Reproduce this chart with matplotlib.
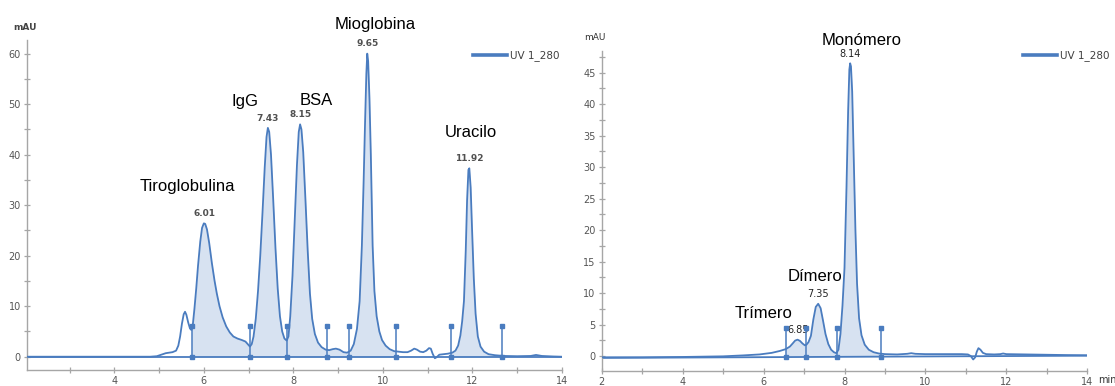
import numpy as np
import matplotlib
matplotlib.use("Agg")
import matplotlib.pyplot as plt
from matplotlib.lines import Line2D
from matplotlib.ticker import MultipleLocator

# ---------------- data ----------------
left_time = [2.05, 4.8, 4.95, 5.05, 5.15, 5.3, 5.38, 5.43, 5.47, 5.51, 5.55, 5.58, 5.61, 5.65, 5.69,
             5.72, 5.75, 5.79, 5.83, 5.87, 5.92, 5.96, 6.00, 6.03, 6.07, 6.12, 6.18, 6.24, 6.29, 6.35,
             6.42, 6.50, 6.58, 6.66, 6.75, 6.85, 6.93, 6.99, 7.03, 7.07, 7.11, 7.16, 7.21, 7.26, 7.31,
             7.36, 7.40, 7.43, 7.46, 7.50, 7.55, 7.60, 7.65, 7.70, 7.75, 7.80, 7.85, 7.89, 7.93, 7.98,
             8.03, 8.08, 8.12, 8.15, 8.18, 8.22, 8.27, 8.32, 8.37, 8.42, 8.48, 8.55, 8.63, 8.72, 8.80,
             8.88, 8.95, 9.03, 9.12, 9.20, 9.28, 9.35, 9.42, 9.48, 9.53, 9.57, 9.60, 9.63, 9.65, 9.67,
             9.70, 9.73, 9.77, 9.81, 9.86, 9.92, 9.98, 10.06, 10.15, 10.25, 10.35, 10.45, 10.55, 10.63,
             10.70, 10.76, 10.83, 10.90, 10.97, 11.03, 11.07, 11.11, 11.16, 11.20, 11.26, 11.35, 11.45,
             11.55, 11.62, 11.68, 11.73, 11.77, 11.81, 11.85, 11.88, 11.91, 11.93, 11.96, 11.99, 12.03,
             12.07, 12.12, 12.18, 12.26, 12.36, 12.50, 12.70, 13.0, 13.3, 13.42, 13.55, 13.8, 14.0]
left_mau = [0, 0, 0.1, 0.4, 0.7, 0.9, 1.2, 2.2, 4.0, 6.5, 8.4, 8.9, 8.3, 6.8, 5.6,
            5.3, 6.0, 9.5, 13.5, 18.0, 22.8, 25.5, 26.4, 26.3, 25.2, 22.5, 18.5, 15.0, 12.5, 10.0,
            7.8, 6.0, 4.8, 4.0, 3.6, 3.3, 3.0, 2.4, 2.0, 2.5, 4.0, 7.5, 13.0, 20.0, 28.5,
            37.5, 43.5, 45.3, 44.5, 40.0, 31.0, 21.5, 13.5, 8.0, 5.0, 3.6, 3.2, 4.0, 8.0, 16.0,
            27.0, 38.0, 44.5, 46.0, 45.0, 40.5, 31.0, 21.0, 12.5, 7.5, 4.5, 2.8, 1.9, 1.4, 1.3,
            1.5, 1.6, 1.4, 0.9, 0.8, 1.2, 2.5, 5.5, 11.0, 22.0, 35.0, 46.0, 56.0, 60.0, 58.5,
            51.0, 40.0, 22.0, 13.0, 8.0, 5.0, 3.3, 2.2, 1.5, 1.1, 1.0, 0.9, 0.9, 1.2,
            1.6, 1.4, 1.0, 0.9, 1.2, 1.7, 1.6, 0.6, -0.3, -0.1, 0.4, 0.5, 0.6,
            0.8, 1.2, 2.2, 4.2, 7.0, 11.0, 21.0, 31.0, 37.0, 37.3, 33.5, 25.5, 15.5,
            8.5, 4.0, 2.0, 1.0, 0.5, 0.3, 0.15, 0.1, 0.15, 0.35, 0.15, 0.05, 0.0]
left_baseline = [0.0, 0.0]
left_marks = [5.73, 7.03, 7.86, 8.76, 9.24, 10.30, 11.52, 12.67]
left_fill = [(5.73, 7.03), (7.03, 7.86), (7.86, 8.76), (8.76, 9.24), (9.24, 10.30), (11.52, 12.67)]
left_peaks_t = [6.01, 7.43, 8.15, 9.65, 11.92]
left_peaks_h = [26.4, 45.3, 46.0, 60.0, 37.3]
left_peak_labels = ["6.01", "7.43", "8.15", "9.65", "11.92"]
left_names = ["Tiroglobulina", "IgG", "BSA", "Mioglobina", "Uracilo"]
left_names_xy = [(5.64, 33.6), (6.91, 50.6), (8.50, 50.8), (9.82, 65.7), (11.96, 44.3)]

right_time = [2.0, 3.0, 4.0, 4.5, 5.0, 5.5, 5.9, 6.2, 6.4, 6.55, 6.65, 6.72, 6.78, 6.84, 6.90,
              6.96, 7.02, 7.06, 7.11, 7.17, 7.23, 7.29, 7.35, 7.41, 7.47, 7.53, 7.60, 7.67, 7.74,
              7.80, 7.85, 7.90, 7.95, 8.00, 8.05, 8.09, 8.12, 8.14, 8.16, 8.19, 8.23, 8.27, 8.31,
              8.36, 8.42, 8.50, 8.60, 8.72, 8.85, 9.0, 9.3, 9.55, 9.65, 9.75, 10.0, 10.5, 10.9,
              11.05, 11.12, 11.18, 11.23, 11.27, 11.31, 11.36, 11.42, 11.5, 11.7, 11.85, 11.92,
              12.0, 12.5, 13.0, 13.5, 14.0]
right_mau = [-0.2, -0.2, -0.15, -0.1, -0.05, 0.1, 0.25, 0.5, 0.8, 1.1, 1.5, 2.0, 2.45, 2.6, 2.4,
             2.0, 1.7, 1.8, 2.2, 3.2, 5.8, 7.8, 8.3, 7.6, 5.6, 3.5, 1.9, 1.0, 0.6,
             0.45, 1.0, 3.5, 8.0, 14.0, 27.0, 39.0, 45.5, 46.5, 46.0, 42.0, 31.0, 20.0, 11.5,
             6.0, 3.3, 1.8, 1.0, 0.6, 0.4, 0.3, 0.25, 0.35, 0.45, 0.35, 0.3, 0.3, 0.3,
             0.25, 0.0, -0.55, -0.2, 0.7, 1.25, 1.0, 0.5, 0.3, 0.25, 0.3, 0.4,
             0.3, 0.25, 0.2, 0.15, 0.12]
right_baseline = [-0.3, 0.05]
right_marks = [6.55, 7.04, 7.81, 8.90]
right_fill = [(6.55, 7.04), (7.04, 7.81), (7.81, 8.90)]
right_peaks_t = [6.85, 7.35, 8.14]
right_peaks_h = [2.6, 8.3, 46.5]
right_peak_labels = ["6.85", "7.35", "8.14"]
right_names = ["Trímero", "Dímero", "Monómero"]
right_names_xy = [(6.01, 6.8), (7.27, 12.6), (8.43, 50.1)]

# ---------------- styling ----------------
LINE = "#4a7cbf"
FILL = "#d7e2f1"
SPINE = "#a6a6a6"
TICKC = "#555555"

fig = plt.figure(figsize=(11.15, 3.86), dpi=100)
W, H = 1115, 386


def px_axes(x0, x1, ytop, ybot):
    return fig.add_axes([x0 / W, (H - ybot) / H, (x1 - x0) / W, (ybot - ytop) / H])


axL = px_axes(27, 562, 40, 370)
axR = px_axes(601.7, 1087.3, 50.7, 371)


def style(ax, xlim, ylim, ymaj, ymin):
    ax.set_xlim(*xlim)
    ax.set_ylim(*ylim)
    for s in ("top", "right"):
        ax.spines[s].set_visible(False)
    for s in ("left", "bottom"):
        ax.spines[s].set_color(SPINE)
        ax.spines[s].set_linewidth(1.0)
    ax.xaxis.set_major_locator(MultipleLocator(2))
    ax.xaxis.set_minor_locator(MultipleLocator(1))
    ax.yaxis.set_major_locator(MultipleLocator(ymaj))
    ax.yaxis.set_minor_locator(MultipleLocator(ymin))
    ax.tick_params(which="both", direction="inout", color=SPINE, width=0.9)
    ax.tick_params(which="major", length=5)
    ax.tick_params(which="minor", length=5)
    ax.tick_params(axis="both", labelsize=7, labelcolor=TICKC, pad=2)
    ax.patch.set_alpha(0)


def draw(ax, t, y, base, marks, fills, mark_top, xlim):
    t = np.asarray(t, float)
    y = np.asarray(y, float)
    bx = np.array(xlim, float)
    bfun = lambda xs: np.interp(xs, bx, base)
    for a, b in fills:
        m = (t > a) & (t < b)
        ts = np.concatenate([[a], t[m], [b]])
        ys = np.concatenate([[np.interp(a, t, y)], y[m], [np.interp(b, t, y)]])
        ax.fill_between(ts, bfun(ts), ys, color=FILL, lw=0, zorder=1)
    ax.plot(bx, base, color=LINE, lw=1.3, zorder=2)
    ax.plot(t, y, color=LINE, lw=1.3, zorder=3, solid_joinstyle="round")
    mk = np.asarray(marks)
    ax.vlines(mk, bfun(mk), mark_top, color=LINE, lw=1.1, zorder=4)
    ax.plot(mk, np.full_like(mk, mark_top), "s", color=LINE, ms=3, zorder=5)
    ax.plot(mk, bfun(mk), "s", color=LINE, ms=3, zorder=5)


style(axL, (2.05, 14), (-2.63, 62.7), 10, 5)
style(axR, (2, 14), (-2.38, 48.5), 5, 2.5)
axR.set_xticks([2, 4, 6, 8, 10, 12, 14])
axL.set_xticks([4, 6, 8, 10, 12, 14])

draw(axL, left_time, left_mau, left_baseline, left_marks, left_fill, 6.1, (2.05, 14))
draw(axR, right_time, right_mau, right_baseline, right_marks, right_fill, 4.5, (2, 14))

# retention time labels
for tt, hh, lab in zip(left_peaks_t, left_peaks_h, left_peak_labels):
    axL.annotate(lab, (tt, hh), xytext=(0, 7), textcoords="offset points", ha="center",
                 va="center", fontsize=6.5, fontweight="bold", color="#505050")
for tt, hh, lab in zip(right_peaks_t, right_peaks_h, right_peak_labels):
    axR.annotate(lab, (tt, hh), xytext=(0, 7), textcoords="offset points", ha="center",
                 va="center", fontsize=7, color="#222222")

# peak names
for (xx, yy), nm in zip(left_names_xy, left_names):
    axL.text(xx, yy, nm, ha="center", va="center", fontsize=12, family="Liberation Sans",
             color="black", clip_on=False)
for (xx, yy), nm in zip(right_names_xy, right_names):
    axR.text(xx, yy, nm, ha="center", va="center", fontsize=12, family="Liberation Sans",
             color="black", clip_on=False)

# unit labels
fig.text(25 / W, 1 - 27 / H, "mAU", ha="center", va="center", fontsize=6.5, color="#444444",
         fontweight="bold")
fig.text(595 / W, 1 - 38 / H, "mAU", ha="center", va="center", fontsize=6.5, color="#333333")
fig.text(1098 / W, 1 - 380 / H, "min", ha="left", va="center", fontsize=7, color="#333333")

# legends
for ax, x0 in ((axL, 473), (axR, 1023)):
    h = Line2D([], [], color=LINE, lw=2.6)
    ax.legend([h], ["UV 1_280"], loc="center left", bbox_to_anchor=(x0 / W, 1 - 56 / H),
              bbox_transform=fig.transFigure, frameon=False, borderpad=0, borderaxespad=0,
              handlelength=3.3, handletextpad=0.3, fontsize=7.5, labelcolor="#404040")

fig.savefig("out.png", dpi=100)
